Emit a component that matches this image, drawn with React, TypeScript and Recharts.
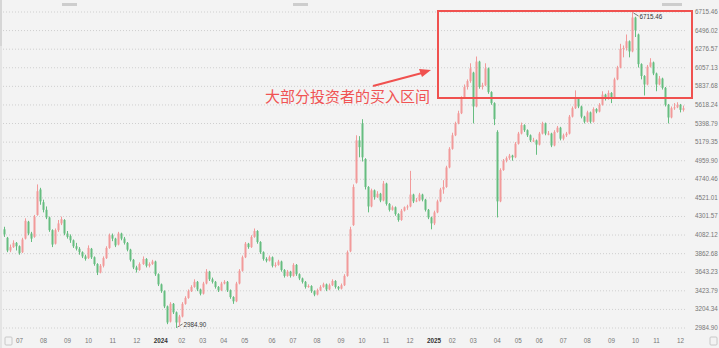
import React from 'react';
import { ComposedChart, Bar, XAxis, YAxis, CartesianGrid } from 'recharts';

// [month, open, high, low, close]
type Row = [string, number, number, number, number];

const rows2023: Row[] = [
  ['06', 4150, 4180, 4060, 4090], ['06', 4050, 4060, 3880, 3900], ['06', 3900, 3970, 3880, 3940],
  ['06', 3940, 4020, 3930, 3990], ['06', 3990, 4000, 3900, 3950],
  ['07', 3950, 3960, 3850, 3870], ['07', 3880, 4050, 3870, 4030], ['07', 4040, 4280, 4030, 4250],
  ['07', 4240, 4250, 4080, 4100], ['07', 4100, 4120, 4000, 4040], ['07', 4060, 4320, 4050, 4300],
  ['07', 4320, 4680, 4310, 4600], ['07', 4620, 4640, 4440, 4480],
  ['08', 4470, 4500, 4350, 4380], ['08', 4380, 4420, 4270, 4290], ['08', 4290, 4300, 4120, 4140],
  ['08', 4140, 4150, 3940, 3970], ['08', 3980, 4160, 3970, 4140], ['08', 4140, 4260, 4120, 4220],
  ['08', 4220, 4300, 4200, 4270], ['08', 4260, 4270, 4080, 4100],
  ['09', 4100, 4130, 4040, 4060], ['09', 4070, 4090, 3990, 4020], ['09', 4020, 4030, 3930, 3950],
  ['09', 3950, 3990, 3900, 3920], ['09', 3920, 3940, 3850, 3880], ['09', 3880, 3890, 3810, 3830],
  ['09', 3830, 3850, 3780, 3800],
  ['10', 3810, 3960, 3800, 3930], ['10', 3920, 3930, 3800, 3820], ['10', 3820, 3830, 3720, 3740],
  ['10', 3740, 3750, 3610, 3640], ['10', 3640, 3740, 3630, 3720], ['10', 3720, 3830, 3700, 3810],
  ['10', 3810, 3950, 3800, 3930], ['10', 3930, 4100, 3920, 4080],
  ['11', 4080, 4100, 4010, 4040], ['11', 4040, 4050, 3940, 3960], ['11', 3970, 4120, 3960, 4100],
  ['11', 4100, 4110, 4020, 4040], ['11', 4040, 4060, 3970, 3990], ['11', 3990, 4000, 3890, 3910],
  ['11', 3910, 3920, 3770, 3790], ['11', 3790, 3800, 3680, 3700],
  ['12', 3700, 3720, 3640, 3670], ['12', 3670, 3760, 3660, 3740], ['12', 3740, 3830, 3730, 3800],
  ['12', 3800, 3810, 3700, 3720], ['12', 3720, 3760, 3700, 3740], ['12', 3740, 3790, 3730, 3770],
  ['12', 3770, 3780, 3600, 3620], ['12', 3620, 3630, 3480, 3500],
];

const rows2024: Row[] = [
  ['01', 3500, 3510, 3400, 3420], ['01', 3420, 3430, 3220, 3240], ['01', 3240, 3250, 3030, 3050],
  ['01', 3060, 3290, 3050, 3270], ['01', 3270, 3280, 3150, 3170], ['01', 3170, 3180, 2984.9, 3050],
  ['01', 3050, 3140, 3000, 3120],
  ['02', 3120, 3290, 3110, 3270], ['02', 3270, 3360, 3260, 3340], ['02', 3340, 3440, 3330, 3420],
  ['02', 3420, 3490, 3410, 3470], ['02', 3470, 3560, 3460, 3530], ['02', 3530, 3540, 3420, 3440],
  ['02', 3440, 3450, 3370, 3390],
  ['03', 3390, 3530, 3380, 3510], ['03', 3510, 3680, 3500, 3650], ['03', 3650, 3660, 3540, 3560],
  ['03', 3560, 3580, 3510, 3530], ['03', 3530, 3540, 3450, 3470], ['03', 3470, 3480, 3410, 3430],
  ['03', 3430, 3530, 3420, 3510],
  ['04', 3510, 3550, 3500, 3530], ['04', 3530, 3540, 3410, 3430], ['04', 3430, 3440, 3330, 3350],
  ['04', 3350, 3360, 3270, 3300], ['04', 3300, 3530, 3290, 3510], ['04', 3510, 3680, 3500, 3660],
  ['04', 3660, 3840, 3650, 3820],
  ['05', 3820, 4000, 3810, 3980], ['05', 3980, 3990, 3920, 3940], ['05', 3940, 4080, 3930, 4060],
  ['05', 4060, 4160, 4050, 4130], ['05', 4130, 4140, 3980, 4000], ['05', 4000, 4010, 3860, 3880],
  ['05', 3880, 3890, 3780, 3800], ['05', 3800, 3820, 3760, 3780], ['05', 3780, 3840, 3770, 3820],
  ['06', 3820, 3830, 3700, 3720], ['06', 3720, 3760, 3700, 3730], ['06', 3730, 3790, 3720, 3770],
  ['06', 3770, 3780, 3650, 3670], ['06', 3670, 3680, 3580, 3600], ['06', 3600, 3670, 3590, 3650],
  ['06', 3650, 3660, 3580, 3600],
  ['07', 3600, 3750, 3590, 3730], ['07', 3730, 3740, 3600, 3620], ['07', 3620, 3630, 3550, 3570],
  ['07', 3570, 3580, 3510, 3530], ['07', 3530, 3540, 3450, 3470], ['07', 3470, 3500, 3460, 3480],
  ['07', 3480, 3490, 3400, 3420], ['07', 3420, 3430, 3360, 3380],
  ['08', 3380, 3450, 3370, 3430], ['08', 3430, 3490, 3420, 3470], ['08', 3470, 3520, 3460, 3500],
  ['08', 3500, 3510, 3420, 3440], ['08', 3440, 3510, 3430, 3490], ['08', 3490, 3560, 3480, 3540],
  ['08', 3540, 3550, 3450, 3470], ['08', 3470, 3480, 3430, 3450],
  ['09', 3450, 3510, 3440, 3490], ['09', 3490, 3620, 3480, 3600], ['09', 3600, 3900, 3590, 3880],
  ['09', 3890, 4180, 3880, 4150], ['09', 4200, 4680, 4190, 4650], ['09', 4700, 5260, 4690, 5200],
  ['09', 5200, 5250, 5000, 5120],
  ['10', 5400, 5450, 4950, 5000], ['10', 4980, 4990, 4620, 4650], ['10', 4650, 4660, 4350, 4420],
  ['10', 4420, 4630, 4410, 4610], ['10', 4610, 4620, 4500, 4530], ['10', 4530, 4600, 4520, 4570],
  ['10', 4570, 4580, 4470, 4490], ['10', 4490, 4720, 4480, 4690],
  ['11', 4690, 4700, 4430, 4450], ['11', 4450, 4460, 4360, 4380], ['11', 4380, 4430, 4370, 4410],
  ['11', 4410, 4420, 4310, 4330], ['11', 4330, 4340, 4240, 4260], ['11', 4260, 4390, 4250, 4370],
  ['11', 4370, 4420, 4360, 4410], ['11', 4410, 4440, 4380, 4420],
  ['12', 4420, 4840, 4410, 4560], ['12', 4560, 4570, 4460, 4480], ['12', 4480, 4520, 4470, 4490],
  ['12', 4490, 4580, 4480, 4560], ['12', 4560, 4570, 4480, 4500], ['12', 4500, 4510, 4360, 4380],
  ['12', 4380, 4390, 4270, 4290], ['12', 4290, 4300, 4150, 4220],
];

const rows2025: Row[] = [
  ['01', 4220, 4370, 4200, 4350], ['01', 4350, 4500, 4340, 4480], ['01', 4480, 4640, 4470, 4620],
  ['01', 4620, 4730, 4570, 4650], ['01', 4650, 4900, 4640, 4880], ['01', 4880, 5120, 4870, 5100],
  ['02', 5100, 5290, 5090, 5260], ['02', 5260, 5420, 5250, 5400], ['02', 5400, 5550, 5390, 5520],
  ['02', 5520, 5720, 5510, 5700], ['02', 5700, 5860, 5690, 5830], ['02', 5830, 5920, 5800, 5900],
  ['02', 5900, 6110, 5880, 6050],
  ['03', 6000, 6010, 5400, 5600], ['03', 5600, 6190, 5590, 6130], ['03', 6130, 6140, 5810, 5830],
  ['03', 5830, 5880, 5800, 5850], ['03', 5850, 6110, 5840, 6050], ['03', 6050, 6060, 5750, 5770],
  ['03', 5770, 5780, 5620, 5640], ['03', 5640, 5650, 5380, 5450],
  ['04', 5300, 5320, 4290, 4480], ['04', 4480, 4870, 4470, 4850], ['04', 4850, 4980, 4840, 4960],
  ['04', 4960, 5010, 4940, 4990], ['04', 4990, 5040, 4970, 5020], ['04', 5020, 5030, 4960, 5000],
  ['04', 5000, 5180, 4990, 5160],
  ['05', 5160, 5300, 5150, 5280], ['05', 5280, 5410, 5270, 5380], ['05', 5380, 5390, 5300, 5320],
  ['05', 5320, 5330, 5240, 5260], ['05', 5260, 5270, 5180, 5200], ['05', 5200, 5230, 5180, 5200],
  ['05', 5200, 5210, 5030, 5150],
  ['06', 5150, 5300, 5140, 5280], ['06', 5280, 5420, 5270, 5400], ['06', 5400, 5410, 5260, 5280],
  ['06', 5280, 5310, 5260, 5280], ['06', 5280, 5290, 5120, 5140], ['06', 5140, 5320, 5130, 5300],
  ['06', 5300, 5370, 5290, 5350], ['06', 5350, 5360, 5200, 5220],
  ['07', 5220, 5280, 5200, 5260], ['07', 5260, 5300, 5240, 5280], ['07', 5280, 5500, 5270, 5480],
  ['07', 5480, 5600, 5470, 5580], ['07', 5580, 5790, 5570, 5690], ['07', 5690, 5700, 5580, 5600],
  ['07', 5600, 5610, 5460, 5480], ['07', 5480, 5490, 5400, 5420],
  ['08', 5420, 5550, 5410, 5530], ['08', 5530, 5540, 5400, 5420], ['08', 5420, 5590, 5410, 5570],
  ['08', 5570, 5580, 5520, 5540], ['08', 5540, 5640, 5530, 5620], ['08', 5620, 5780, 5610, 5740],
  ['08', 5740, 5750, 5670, 5690], ['08', 5690, 5790, 5680, 5760],
  ['09', 5760, 5770, 5640, 5700], ['09', 5700, 5940, 5690, 5920], ['09', 5920, 6080, 5910, 6060],
  ['09', 6060, 6340, 6050, 6280], ['09', 6280, 6320, 6180, 6290], ['09', 6290, 6450, 6260, 6370],
  ['09', 6370, 6380, 6180, 6250], ['09', 6250, 6715.46, 6240, 6650],
  ['10', 6650, 6660, 6420, 6500], ['10', 6450, 6460, 6060, 6100], ['10', 6100, 6110, 5920, 5960],
  ['10', 5960, 5970, 5730, 5860], ['10', 5860, 6090, 5850, 6070], ['10', 6070, 6170, 6060, 6120],
  ['10', 6120, 6130, 5970, 5990],
  ['11', 5990, 6000, 5780, 5860], ['11', 5860, 5960, 5850, 5930], ['11', 5930, 5940, 5800, 5820],
  ['11', 5820, 5830, 5600, 5620], ['11', 5620, 5630, 5400, 5470], ['11', 5470, 5600, 5460, 5580],
  ['11', 5580, 5640, 5560, 5590], ['11', 5590, 5650, 5580, 5620],
  ['12', 5620, 5630, 5530, 5560], ['12', 5560, 5610, 5540, 5580],
];

const priceTicks = [
  2984.90, 3204.34, 3423.79, 3643.23, 3862.68, 4082.12, 4301.57, 4521.01, 4740.46,
  4959.90, 5179.35, 5398.79, 5618.24, 5837.68, 6057.13, 6276.57, 6496.02, 6715.46,
];

const UP = '#f29a9a';
const DOWN = '#66bd80';
const LOW = 2984.90;
const HIGH = 6715.46;
const FONT = 'Arial, "Liberation Sans", sans-serif';

const data = [
  ...rows2023.map((r) => ({ year: 2023, r })),
  ...rows2024.map((r) => ({ year: 2024, r })),
  ...rows2025.map((r) => ({ year: 2025, r })),
].map(({ year, r }, i) => ({ i, year, month: r[0], o: r[1], h: r[2], l: r[3], c: r[4] }));

// first candle of every month gets a tick
const monthTicks = data.filter((d, i) => i > 0 && d.month !== data[i - 1].month).map((d) => d.i);

const Candle = (props: any) => {
  const { x, y, width, height, payload } = props;
  const { o, h, l, c } = payload;
  const top = Math.min(y, y + height);
  const bot = Math.max(y, y + height);
  const k = h === l ? 0 : (bot - top) / (h - l);
  const bt = top + (h - Math.max(o, c)) * k;
  const bb = top + (h - Math.min(o, c)) * k;
  const cx = Math.round(x + width / 2) + 0.5;
  const col = c >= o ? UP : DOWN;
  return (
    <g>
      <line x1={cx} x2={cx} y1={top} y2={bot} stroke={col} strokeWidth={1} />
      <rect x={cx - 1} y={bt} width={2} height={Math.max(1, bb - bt)} fill={col} />
      {h === HIGH && (
        <g>
          <line x1={cx + 1} y1={top + 1} x2={cx + 6} y2={top + 4} stroke="#555" strokeWidth={0.8} />
          <text x={cx + 7} y={top + 7} fontSize={6.3} fill="#333" fontFamily={FONT}>{HIGH.toFixed(2)}</text>
        </g>
      )}
      {l === LOW && (
        <g>
          <line x1={cx + 1} y1={bot - 1} x2={cx + 6} y2={bot - 4} stroke="#555" strokeWidth={0.8} />
          <text x={cx + 7} y={bot - 1} fontSize={6.3} fill="#333" fontFamily={FONT}>{LOW.toFixed(2)}</text>
        </g>
      )}
    </g>
  );
};

const MonthTick = (props: any) => {
  const { x, y, payload } = props;
  const d = data[payload.value];
  const isYear = d.month === '01';
  return (
    <text x={x} y={y + 7} textAnchor="middle" fontSize={6.3} fontFamily={FONT}
      fill={isYear ? '#333' : '#777'} fontWeight={isYear ? 'bold' : 'normal'}>
      {isYear ? String(d.year) : d.month}
    </text>
  );
};

const PriceTick = (props: any) => {
  const { x, y, payload } = props;
  return (
    <text x={x + 2} y={y + 2} textAnchor="start" fontSize={6.3} fontFamily={FONT} fill="#777">
      {Number(payload.value).toFixed(2)}
    </text>
  );
};

export default function App() {
  return (
    <div style={{ position: 'absolute', left: 0, top: 0, width: 719, height: 348, background: '#f3f3f3', overflow: 'hidden' }}>
      <ComposedChart width={719} height={348} data={data} margin={{ top: 12, right: 0, bottom: 0, left: 3 }}>
        <CartesianGrid vertical={false} stroke="#cfcfcf" strokeDasharray="1 2" />
        <XAxis dataKey="i" ticks={monthTicks} interval={0} tick={<MonthTick />}
          tickLine={false} axisLine={false} height={20} />
        <YAxis orientation="right" domain={[LOW, HIGH]} ticks={priceTicks} tick={<PriceTick />}
          interval={0} tickLine={false} axisLine={false} width={34} allowDataOverflow />
        <Bar dataKey={(d: any) => [d.l, d.h]} shape={<Candle />} isAnimationActive={false} />
      </ComposedChart>
      <svg width={719} height={348} style={{ position: 'absolute', left: 0, top: 0, pointerEvents: 'none' }}>
        <rect x={0} y={0} width={2} height={348} fill="#e4e4e4" />
        <rect x={0} y={0} width={2} height={46} fill="#d6d6d6" />
        <rect x={62} y={3} width={15} height={3} fill="#cdcdcd" />
        <rect x={293} y={3} width={15} height={3} fill="#cdcdcd" />
        <rect x={662} y={3} width={20} height={3} fill="#cdcdcd" />
        <rect x={5} y={337} width={7} height={8} rx={1} fill="none" stroke="#c8c8c8" />
        <rect x={710} y={337} width={7} height={8} rx={1} fill="none" stroke="#c8c8c8" />
        <rect x={438} y={11} width={254} height={87} fill="none" stroke="#f0514f" strokeWidth={2} />
        <line x1={373} y1={86} x2={422} y2={73} stroke="#f0514f" strokeWidth={2} />
        <polygon points="431,70 419,69 422,77" fill="#f0514f" />
        <text x={265} y={102} fontSize={15} fill="#f05454" fontFamily='"Noto Sans CJK SC", sans-serif'>大部分投资者的买入区间</text>
      </svg>
    </div>
  );
}
